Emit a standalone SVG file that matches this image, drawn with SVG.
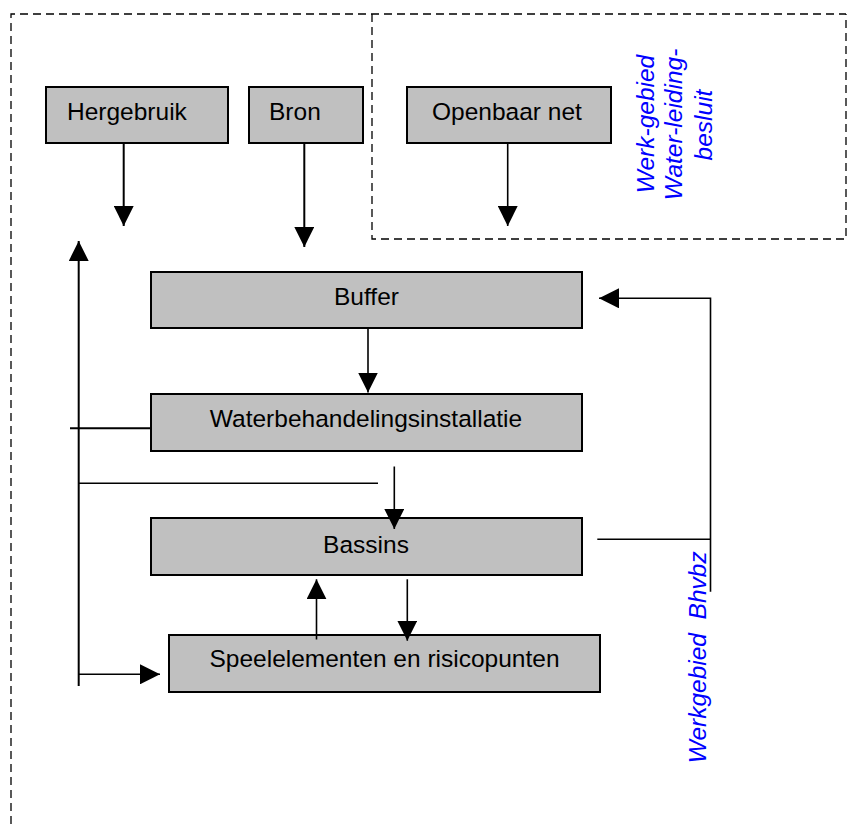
<svg xmlns="http://www.w3.org/2000/svg" width="851" height="824" viewBox="0 0 851 824">
<style>
.box{fill:#c0c0c0;stroke:#000;stroke-width:2}
.lbl{font-family:"Liberation Sans",Arial,sans-serif;font-size:24.5px;fill:#000}
.blue{font-family:"Liberation Sans",Arial,sans-serif;font-size:24.5px;font-style:italic;fill:#0000ff}
.dash{fill:none;stroke:#000;stroke-width:1.3;stroke-dasharray:8,5}
.ln{fill:none;stroke:#000;stroke-width:2}
.thin{fill:none;stroke:#000;stroke-width:1.6}
.arr{marker-end:url(#ah)}
</style>
<defs>
<marker id="ah" markerUnits="userSpaceOnUse" markerWidth="20" markerHeight="20" refX="20" refY="10" orient="auto">
<path d="M0,0 L20,10 L0,20 z" fill="#000"/>
</marker>
</defs>
<rect width="851" height="824" fill="#fff"/>
<g id="regions">
<path class="dash" d="M11,824 L11,14 L846,14"/>
<path class="dash" d="M372,14 L372,239 L846,239 L846,14"/>
</g>
<g id="hergebruik">
<rect class="box" x="46" y="87" width="182" height="56"/>
<text class="lbl" x="67" y="119.5">Hergebruik</text>
</g>
<g id="bron">
<rect class="box" x="249" y="87" width="114" height="56"/>
<text class="lbl" x="269" y="119.5">Bron</text>
</g>
<g id="openbaar-net">
<rect class="box" x="407" y="87" width="204" height="56"/>
<text class="lbl" x="432" y="119.5">Openbaar net</text>
</g>
<g id="buffer">
<rect class="box" x="151" y="272" width="431" height="56"/>
<text class="lbl" x="366.5" y="304.5" text-anchor="middle">Buffer</text>
</g>
<g id="waterbehandeling">
<rect class="box" x="151" y="394" width="431" height="57"/>
<text class="lbl" x="366" y="427" text-anchor="middle">Waterbehandelingsinstallatie</text>
</g>
<g id="bassins">
<rect class="box" x="151" y="518" width="431" height="57"/>
<text class="lbl" x="366" y="552.7" text-anchor="middle">Bassins</text>
</g>
<g id="speelelementen">
<rect class="box" x="169" y="635" width="431" height="57"/>
<text class="lbl" x="384.5" y="667" text-anchor="middle">Speelelementen en risicopunten</text>
</g>
<g id="label-waterleidingbesluit">
<text class="blue" transform="translate(654,124) rotate(-90)" text-anchor="middle">Werk-gebied</text>
<text class="blue" transform="translate(682,124.5) rotate(-90)" text-anchor="middle">Water-leiding-</text>
<text class="blue" transform="translate(711.5,125) rotate(-90)" text-anchor="middle">besluit</text>
</g>
<g id="label-bhvbz">
<text class="blue" xml:space="preserve" style="white-space:pre" transform="translate(705.5,763.3) rotate(-90)">Werkgebied  Bhvbz</text>
</g>
<g id="connectors">
<path class="ln arr" d="M123.7,143 L123.7,226"/>
<path class="ln arr" d="M304.3,143 L304.3,247"/>
<path class="thin arr" d="M507.7,143 L507.7,226"/>
<path class="ln arr" d="M78.7,686 L78.7,241"/>
<path class="ln" d="M70,428.3 L150,428.3"/>
<path class="thin" d="M78.7,483.3 L378,483.3"/>
<path class="thin arr" d="M394.3,466.5 L394.3,529"/>
<path class="thin arr" d="M368,328 L368,392.5"/>
<path class="thin arr" d="M316.5,639.5 L316.5,579.3"/>
<path class="thin arr" d="M407.3,579.3 L407.3,640.7"/>
<path class="thin arr" d="M78.7,674.3 L160,674.3"/>
<path class="thin" d="M597.3,539.3 L710.5,539.3"/>
<path class="thin arr" d="M710.5,591.7 L710.5,298.3 L599,298.3"/>
</g>
</svg>
